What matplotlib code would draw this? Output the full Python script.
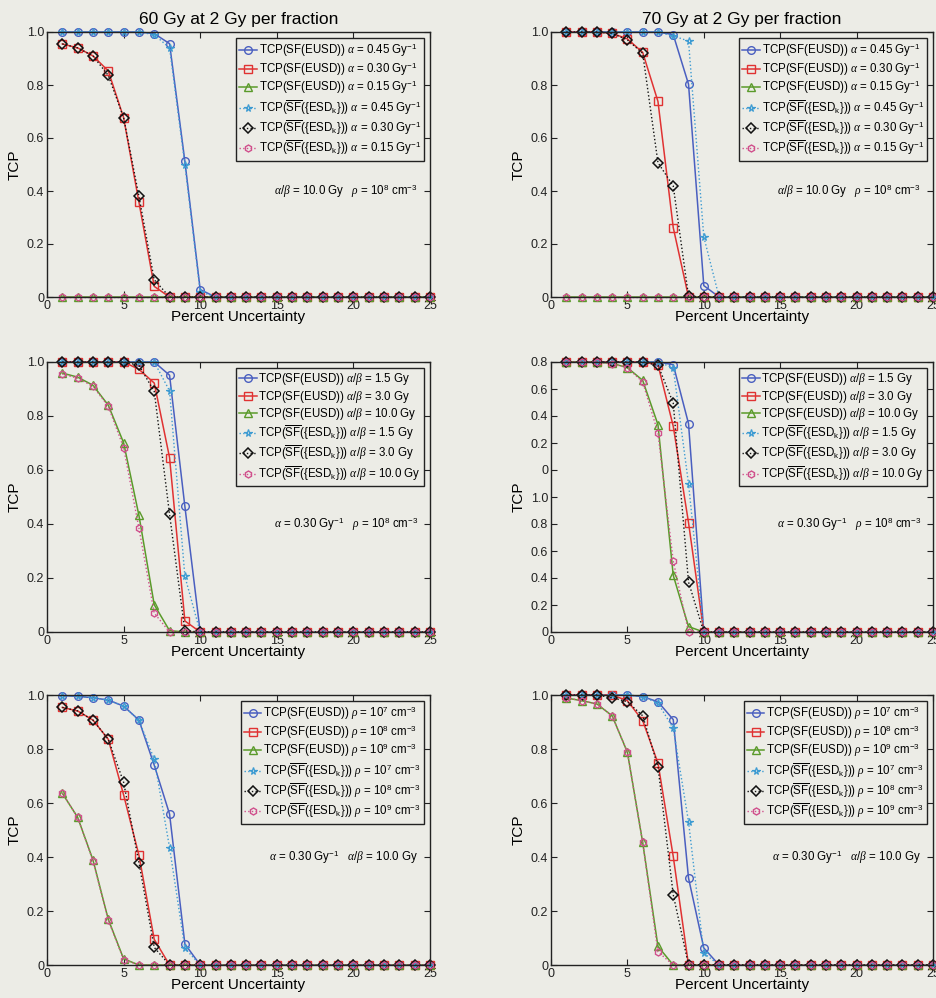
import numpy as np
import matplotlib
matplotlib.use("Agg")
import matplotlib.pyplot as plt

plt.rcParams['font.family'] = ['Liberation Sans', 'DejaVu Sans']
plt.rcParams['mathtext.fontset'] = 'custom'
plt.rcParams['mathtext.rm'] = 'Liberation Sans'
plt.rcParams['mathtext.it'] = 'Liberation Serif:italic'
plt.rcParams['mathtext.bf'] = 'Liberation Sans:bold'

BG = '#ececE6'

x = np.arange(1, 26)

def pad(vals):
    return list(vals) + [0.0] * (25 - len(vals))

# ---- Panel data (TCP vs percent uncertainty 1..25) ----
# Top-left: 60 Gy, vary alpha
tl_eusd_045 = pad([1, 1, 1, 1, 1, 1, 0.994, 0.956, 0.512, 0.028])
tl_eusd_030 = pad([0.955, 0.94, 0.91, 0.853, 0.677, 0.358, 0.04])
tl_eusd_015 = pad([])
tl_esd_045 = pad([1, 1, 1, 1, 1, 1, 0.99, 0.94, 0.50, 0.02])
tl_esd_030 = pad([0.955, 0.94, 0.91, 0.836, 0.677, 0.38, 0.065])
tl_esd_015 = pad([])

# Top-right: 70 Gy, vary alpha
tr_eusd_045 = pad([1, 1, 1, 1, 1, 1, 1, 0.99, 0.803, 0.043])
tr_eusd_030 = pad([1, 1, 1, 0.995, 0.974, 0.923, 0.738, 0.262])
tr_eusd_015 = pad([])
tr_esd_045 = pad([1, 1, 1, 1, 1, 1, 1, 0.985, 0.966, 0.227])
tr_esd_030 = pad([1, 1, 1, 0.995, 0.97, 0.92, 0.507, 0.419, 0.003])
tr_esd_015 = pad([])

# Middle-left: 60 Gy, vary alpha/beta
ml_eusd_15 = pad([1, 1, 1, 1, 1, 1, 1, 0.951, 0.465])
ml_eusd_30 = pad([1, 1, 1, 1, 1, 0.973, 0.922, 0.646, 0.041])
ml_eusd_100 = pad([0.959, 0.944, 0.914, 0.84, 0.701, 0.432, 0.101, 0.005])
ml_esd_15 = pad([1, 1, 1, 1, 1, 1, 1, 0.893, 0.206])
ml_esd_30 = pad([1, 1, 1, 1, 1, 0.988, 0.891, 0.436, 0.005])
ml_esd_100 = pad([0.955, 0.94, 0.91, 0.836, 0.683, 0.385, 0.07])

# Middle-right: 70 Gy, vary alpha/beta (axis labels as printed)
mr_eusd_15 = pad([1, 1, 1, 1, 1, 1, 1, 0.99, 0.772])
mr_eusd_30 = pad([1, 1, 1, 1, 1, 1, 0.99, 0.762, 0.405])
mr_eusd_100 = pad([1, 1, 1, 0.995, 0.979, 0.932, 0.768, 0.21, 0.02])
mr_esd_15 = pad([1, 1, 1, 1, 1, 1, 1, 0.979, 0.549])
mr_esd_30 = pad([1, 1, 1, 1, 1, 1, 0.988, 0.848, 0.185])
mr_esd_100 = pad([1, 1, 1, 0.993, 0.979, 0.926, 0.737, 0.263])

# Bottom-left: 60 Gy, vary clonogen density
bl_eusd_e7 = pad([0.998, 0.995, 0.99, 0.981, 0.959, 0.907, 0.74, 0.559, 0.078])
bl_eusd_e8 = pad([0.954, 0.941, 0.907, 0.836, 0.63, 0.407, 0.095])
bl_eusd_e9 = pad([0.636, 0.547, 0.389, 0.169, 0.023])
bl_esd_e7 = pad([0.998, 0.995, 0.99, 0.981, 0.959, 0.907, 0.762, 0.435, 0.062])
bl_esd_e8 = pad([0.954, 0.941, 0.907, 0.836, 0.677, 0.379, 0.065])
bl_esd_e9 = pad([0.636, 0.547, 0.386, 0.166, 0.02])

# Bottom-right: 70 Gy, vary clonogen density
br_eusd_e7 = pad([1, 1, 1, 1, 1, 0.994, 0.975, 0.909, 0.322, 0.063])
br_eusd_e8 = pad([1, 1, 1, 1, 0.979, 0.905, 0.748, 0.402])
br_eusd_e9 = pad([0.989, 0.979, 0.967, 0.923, 0.788, 0.454, 0.069])
br_esd_e7 = pad([1, 1, 1, 1, 1, 0.994, 0.97, 0.877, 0.531, 0.044])
br_esd_e8 = pad([1, 1, 1, 0.99, 0.975, 0.923, 0.735, 0.26])
br_esd_e9 = pad([0.989, 0.979, 0.967, 0.923, 0.788, 0.454, 0.049])

titles = ['60 Gy at 2 Gy per fraction', '70 Gy at 2 Gy per fraction']

alpha_labels = [r'$\alpha$ = 0.45 Gy$^{-1}$', r'$\alpha$ = 0.30 Gy$^{-1}$', r'$\alpha$ = 0.15 Gy$^{-1}$']
ab_labels = [r'$\alpha/\beta$ = 1.5 Gy', r'$\alpha/\beta$ = 3.0 Gy', r'$\alpha/\beta$ = 10.0 Gy']
rho_labels = [r'$\rho$ = 10$^{7}$ cm$^{-3}$', r'$\rho$ = 10$^{8}$ cm$^{-3}$', r'$\rho$ = 10$^{9}$ cm$^{-3}$']

notes = [r'$\alpha/\beta$ = 10.0 Gy   $\rho$ = 10$^{8}$ cm$^{-3}$',
         r'$\alpha$ = 0.30 Gy$^{-1}$   $\rho$ = 10$^{8}$ cm$^{-3}$',
         r'$\alpha$ = 0.30 Gy$^{-1}$   $\alpha/\beta$ = 10.0 Gy']

yt_std = ['0', '0.2', '0.4', '0.6', '0.8', '1.0']
yt_odd = ['0', '0.2', '0.4', '0.6', '0.8', '1.0', '0', '0.2', '0.4', '0.6', '0.8']

panels = [
    (tl_eusd_045, tl_eusd_030, tl_eusd_015, tl_esd_045, tl_esd_030, tl_esd_015, alpha_labels, 0, 0),
    (tr_eusd_045, tr_eusd_030, tr_eusd_015, tr_esd_045, tr_esd_030, tr_esd_015, alpha_labels, 0, 1),
    (ml_eusd_15, ml_eusd_30, ml_eusd_100, ml_esd_15, ml_esd_30, ml_esd_100, ab_labels, 1, 0),
    (mr_eusd_15, mr_eusd_30, mr_eusd_100, mr_esd_15, mr_esd_30, mr_esd_100, ab_labels, 1, 1),
    (bl_eusd_e7, bl_eusd_e8, bl_eusd_e9, bl_esd_e7, bl_esd_e8, bl_esd_e9, rho_labels, 2, 0),
    (br_eusd_e7, br_eusd_e8, br_eusd_e9, br_esd_e7, br_esd_e8, br_esd_e9, rho_labels, 2, 1),
]

W, H = 937, 998
fig = plt.figure(figsize=(W / 100, H / 100), dpi=100, facecolor=BG)

col_x = [(47, 430), (551, 933)]
row_y = [(32, 297), (362, 632), (695, 965)]

C_BLUE = '#4a5fc0'
C_RED = '#e03232'
C_GREEN = '#5a9a2a'
C_STAR = '#3d9bd2'
C_DIAM = '#111111'
C_PINK = '#d0508c'

EUSD = 'TCP(SF(EUSD)) '
ESD = r'TCP($\overline{\mathrm{SF}}$({ESD$_{\mathrm{k}}$})) '

for (a, b, c, d, e, f, labs, r, cidx) in panels:
    x0, x1 = col_x[cidx]
    y0, y1 = row_y[r]
    ax = fig.add_axes([x0 / W, 1 - y1 / H, (x1 - x0) / W, (y1 - y0) / H])
    ax.set_facecolor(BG)
    kw = dict(clip_on=False, markersize=5.5, markerfacecolor='none')
    ax.plot(x, a, '-', color=C_BLUE, marker='o', lw=1.1, markeredgewidth=1.0, label=EUSD + labs[0], **kw)
    ax.plot(x, b, '-', color=C_RED, marker='s', lw=1.1, markeredgewidth=1.0, label=EUSD + labs[1], **kw)
    ax.plot(x, c, '-', color=C_GREEN, marker='^', lw=1.1, markeredgewidth=1.0, label=EUSD + labs[2], **kw)
    ax.plot(x, d, ':', color=C_STAR, marker='*', lw=1.0, markeredgewidth=0.9, label=ESD + labs[0], **kw)
    ax.plot(x, e, ':', color=C_DIAM, marker='D', lw=1.0, markeredgewidth=1.1, label=ESD + labs[1],
            clip_on=False, markersize=5, markerfacecolor='none')
    ax.plot(x, f, ':', color=C_PINK, marker='h', lw=1.0, markeredgewidth=1.0, label=ESD + labs[2],
            clip_on=False, markersize=5, markerfacecolor='none')
    ax.set_xlim(0, 25)
    ax.set_ylim(0, 1)
    ax.set_xticks([0, 5, 10, 15, 20, 25])
    if r == 1 and cidx == 1:
        ax.set_yticks(np.linspace(0, 1, 11))
        ax.set_yticklabels(yt_odd)
    else:
        ax.set_yticks(np.linspace(0, 1, 6))
        ax.set_yticklabels(yt_std)
    ax.tick_params(direction='in', top=True, right=True, length=4, width=0.8,
                   labelsize=9, pad=2, colors='#222222')
    for s in ax.spines.values():
        s.set_linewidth(1.0)
        s.set_color('#222222')
    ax.set_xlabel('Percent Uncertainty', fontsize=11, labelpad=-1)
    ax.set_ylabel('TCP', fontsize=11, labelpad=4)
    if r == 0:
        ax.set_title(titles[cidx], fontsize=12.5, pad=6)
    leg = ax.legend(loc='upper right', fontsize=8.3, frameon=True, fancybox=False,
                    edgecolor='#222222', facecolor=BG, framealpha=1.0,
                    handlelength=1.5, handletextpad=0.15, borderpad=0.3,
                    labelspacing=0.12, borderaxespad=0.5)
    leg.get_frame().set_linewidth(1.0)
    ax.text(0.969, 0.40, notes[r], transform=ax.transAxes, ha='right', va='center', fontsize=8.3)

fig.savefig('out.png', dpi=100, facecolor=BG)
